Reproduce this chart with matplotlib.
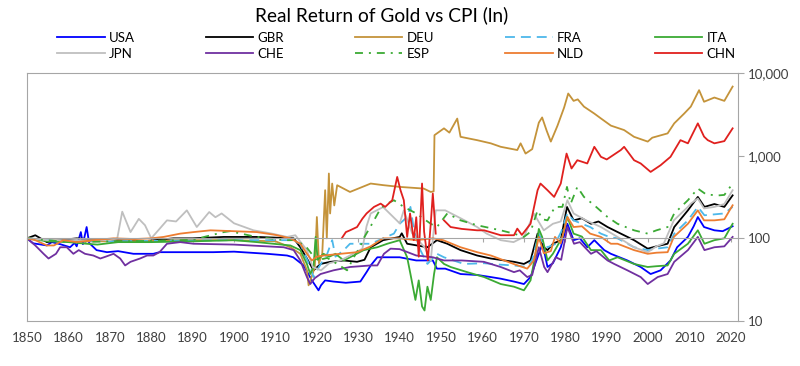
"""Real return of gold vs CPI, log scale, ten countries."""
import numpy as np
import matplotlib
matplotlib.use("Agg")
import matplotlib.pyplot as plt
from matplotlib.ticker import FixedLocator, NullLocator, FixedFormatter

plt.rcParams["font.family"] = ["Lato", "DejaVu Sans"]

# ---- data (index) ----
usa_x = [1850, 1851.5, 1854.8, 1856, 1858, 1860.4, 1861.5, 1862, 1863, 1863.5, 1864.4, 1865, 1866.8,
         1869.3, 1872, 1875.7, 1880.5, 1882, 1887, 1895, 1900, 1908, 1912.8, 1914.3, 1916.8, 1918.8,
         1920.4, 1921, 1922, 1924, 1927, 1930.5, 1932, 1933, 1934.6, 1940, 1944, 1948, 1949, 1951,
         1954.7, 1958.8, 1962, 1964.4, 1967.6, 1970, 1971.6, 1973.3, 1974.5, 1975.7, 1977, 1978.9,
         1980.5, 1982, 1983.5, 1985.3, 1987, 1989.4, 1991, 1995, 1998.2, 2000.6, 2003, 2005.4, 2007,
         2009.6, 2011, 2012, 2013.5, 2016, 2018, 2020.4]
usa_y = [100, 87, 82, 90, 85, 78, 88, 80, 119, 85, 137, 88, 72, 68, 70, 65, 65, 68, 68, 68, 69, 65,
         62, 59, 47, 31, 23.5, 27, 31, 30, 29, 30, 39, 47, 59, 59, 54, 54, 43, 43, 37, 36, 34, 32.5,
         30, 28, 34, 59, 86, 45, 50, 78, 150, 95, 100, 78, 95, 72, 65, 54, 45, 37, 41, 54, 78, 104,
         140, 181, 137, 125, 122, 140]

gbr_x = [1850, 1852, 1854.8, 1858, 1862, 1868.5, 1879, 1885.4, 1890, 1897.5, 1905.5, 1914.4, 1916,
         1917.6, 1919.2, 1920.9, 1923.3, 1926.5, 1929.7, 1931.5, 1933, 1936, 1940, 1940.5, 1941.8,
         1946.7, 1949, 1951.5, 1954.7, 1958.7, 1962, 1967.6, 1970, 1971.6, 1973.3, 1974.5, 1975.7,
         1977, 1978.9, 1980.4, 1982, 1984, 1986.2, 1988, 1990.2, 1993.4, 1996.6, 1999.9, 2002,
         2004.7, 2006.3, 2009.6, 2012, 2013.6, 2016, 2018.4, 2020.4]
gbr_y = [100, 109, 90, 95, 100, 95, 93, 100, 100, 104, 104, 100, 78, 57, 41, 49, 52, 54, 52, 55,
         78, 95, 104, 115, 86, 78, 95, 86, 72, 62, 57, 52, 49, 54, 114, 80, 72, 86, 95, 240, 165,
         175, 150, 160, 137, 114, 95, 75, 80, 86, 137, 218, 317, 240, 260, 240, 331]

deu_x = [1850, 1860, 1870, 1880, 1890, 1900, 1910, 1913.6, 1916, 1917.6, 1918, 1918.8, 1919.5,
         1920, 1920.5, 1921.3, 1922, 1922.4, 1922.9, 1923.2, 1923.7, 1924.2, 1924.9, 1928, 1933,
         1936, 1940, 1945.8, 1947.5, 1948.2, 1948.4, 1950.7, 1952, 1953.9, 1954.7, 1958.7, 1962,
         1964.4, 1968.4, 1969.2, 1970.4, 1972, 1973.6, 1974.4, 1975.5, 1976.5, 1978.1, 1979.7,
         1980.7, 1982, 1983, 1984.5, 1987, 1988.6, 1991, 1994.2, 1996.6, 1999.9, 2001, 2004.7,
         2006.3, 2008.7, 2010.3, 2012.3, 2013.5, 2016, 2018.4, 2020.4]
deu_y = [100, 92, 92, 93, 95, 95, 92, 78, 65, 41, 27, 35, 45, 181, 50, 65, 382, 100, 608, 200,
         460, 250, 439, 364, 460, 440, 419, 400, 364, 370, 1770, 2140, 1900, 2810, 1690, 1540,
         1410, 1280, 1170, 1410, 1060, 1200, 2510, 2900, 2000, 1480, 2300, 3810, 5650, 4600, 4800,
         3920, 3230, 2820, 2310, 2040, 1690, 1480, 1650, 1860, 2460, 3230, 3920, 6200, 4490, 5050,
         4600, 6850]

fra_x = [1850, 1860, 1870, 1880, 1890, 1900, 1910, 1914, 1916, 1918.4, 1919.2, 1920.5, 1922.5,
         1923.7, 1924.5, 1926.5, 1928, 1933, 1936, 1938.6, 1940, 1941.8, 1942.6, 1943.5, 1945,
         1946.7, 1949, 1950.7, 1955.5, 1960.4, 1964.4, 1967.6, 1970.8, 1972, 1973.6, 1974.5,
         1975.7, 1977.5, 1979, 1980.5, 1982, 1984, 1986, 1988.6, 1990.6, 1992.6, 1996.6, 1999.9,
         2002, 2004.7, 2006.3, 2009.6, 2012, 2013.6, 2016, 2018.4, 2020.4]
fra_y = [100, 92, 92, 93, 94, 95, 95, 95, 86, 45, 34, 45, 65, 95, 60, 72, 86, 86, 100, 114, 150,
         181, 240, 120, 72, 49, 65, 59, 49, 50, 48, 47, 45, 55, 114, 90, 78, 85, 120, 200, 165, 150,
         137, 114, 104, 100, 78, 72, 75, 78, 114, 165, 240, 190, 195, 200, 240]

ita_x = [1850, 1855, 1860, 1864.4, 1867, 1872, 1880, 1890, 1900, 1905.5, 1913.6, 1916, 1917.6,
         1918.4, 1919.2, 1919.7, 1920.2, 1921.6, 1923, 1924.5, 1926.5, 1928, 1931.3, 1934.6, 1937,
         1940, 1941.8, 1942.6, 1943.8, 1944.6, 1945.4, 1946, 1946.7, 1947.5, 1948.3, 1949, 1950.7,
         1952.3, 1956.3, 1960.4, 1964.4, 1967.6, 1970, 1971.6, 1972.8, 1973.6, 1974.4, 1975.7,
         1977, 1979.3, 1980.5, 1982, 1984, 1986.2, 1988.6, 1990.6, 1992.6, 1996.6, 1999.9, 2002,
         2004.7, 2006.3, 2009.6, 2012, 2013.6, 2016, 2018.4, 2020.4]
ita_y = [100, 92, 90, 86, 84, 90, 90, 92, 95, 90, 82, 72, 49, 37, 45, 104, 55, 65, 60, 65, 54, 59,
         72, 78, 86, 95, 59, 37, 18, 31, 15, 13.4, 26, 18, 37, 59, 49, 45, 39, 34, 28, 26, 23.5,
         31, 65, 130, 104, 54, 65, 104, 181, 114, 105, 72, 72, 54, 59, 49, 45, 46, 47, 65, 86, 125,
         86, 95, 100, 150]

jpn_x = [1850, 1855, 1860, 1865, 1870, 1871.8, 1873, 1875, 1877, 1878.5, 1880, 1882, 1883.8,
         1886, 1888.6, 1891, 1894, 1895.5, 1897, 1900, 1904.7, 1908.8, 1912.8, 1914.8, 1917.6,
         1919, 1921, 1923, 1925.7, 1928, 1931, 1932, 1933, 1936, 1940, 1941, 1943, 1946, 1947.5,
         1948.7, 1951, 1954.7, 1958.7, 1961, 1964.4, 1967.5, 1970, 1972.4, 1974.8, 1977, 1978.9,
         1980.5, 1982, 1985, 1988.6, 1992.6, 1996.6, 1999.9, 2002, 2003.8, 2006.2, 2009.6, 2010.3,
         2012, 2013.5, 2016, 2018.4, 2020.4]
jpn_y = [100, 95, 95, 95, 95, 100, 210, 119, 172, 144, 100, 130, 165, 160, 218, 137, 208, 180,
         200, 152, 125, 115, 104, 109, 72, 45, 41, 50, 54, 62, 75, 140, 200, 239, 152, 218, 115,
         78, 54, 218, 218, 175, 137, 114, 95, 90, 104, 199, 125, 150, 160, 289, 200, 165, 137, 104,
         78, 68, 80, 87, 165, 240, 263, 303, 230, 240, 260, 382]

che_x = [1850, 1852, 1854, 1855.2, 1857, 1858, 1859.6, 1861.2, 1862.5, 1864, 1866, 1867.7, 1869,
         1870.9, 1872.5, 1873.7, 1875, 1877.3, 1879, 1880.5, 1882, 1883.8, 1887, 1890.2, 1900,
         1912, 1914.4, 1916, 1917.6, 1918.4, 1919.5, 1920.9, 1924, 1928, 1933, 1934.6, 1936.2,
         1937.8, 1940, 1944, 1948, 1950.7, 1955, 1960.3, 1964.4, 1967.6, 1969, 1970.8, 1972,
         1973.6, 1974.9, 1975.7, 1977.7, 1979, 1980.5, 1982.1, 1983.5, 1986.2, 1987.5, 1990.2,
         1991.8, 1995, 1998.2, 1999.9, 2002.3, 2004.7, 2006.3, 2009.6, 2012, 2013.6, 2016, 2018.4,
         2020.4]
che_y = [100, 82, 65, 57, 65, 78, 78, 65, 72, 65, 62, 57, 60, 65, 57, 47, 52, 57, 62, 62, 68, 86,
         90, 86, 84, 78, 72, 54, 34, 28, 33, 37, 41, 45, 47, 47, 65, 75, 74, 62, 59, 54, 54, 52,
         45, 39, 41, 34, 36, 78, 45, 39, 59, 55, 137, 86, 90, 65, 70, 54, 49, 41, 34, 28, 34, 37,
         52, 72, 104, 72, 78, 80, 104]

esp_x = [1850, 1860, 1870, 1880, 1890, 1897.5, 1899, 1905, 1912, 1915, 1917.5, 1920, 1922.5,
         1924.9, 1927.3, 1929, 1930.5, 1931.3, 1933, 1935.4, 1937, 1938.6, 1941, 1944, 1947.5,
         1949, 1951.5, 1954.7, 1958.7, 1964.4, 1967.6, 1970, 1971.6, 1973.3, 1974.5, 1975.7,
         1977.5, 1979.3, 1980.4, 1981.3, 1982.9, 1984.5, 1987, 1990.2, 1992.6, 1996.6, 1999.9,
         2002, 2004.7, 2006.3, 2009.6, 2012, 2014, 2016.8, 2018.4, 2020.4]
esp_y = [100, 90, 92, 93, 96, 119, 122, 105, 95, 95, 78, 54, 58, 49, 41, 60, 80, 100, 140, 230,
         263, 289, 240, 200, 150, 137, 200, 165, 144, 125, 114, 104, 120, 218, 170, 165, 240, 240,
         419, 263, 419, 317, 251, 181, 150, 125, 114, 125, 137, 200, 289, 400, 340, 330, 335, 460]

nld_x = [1850, 1852, 1854.8, 1856.5, 1858.8, 1862, 1866, 1870.9, 1876, 1880, 1883, 1887, 1890.2,
         1894.3, 1900, 1905.5, 1910, 1913.6, 1916, 1917.6, 1918.8, 1920, 1921.7, 1925.7, 1929.7,
         1933, 1936, 1940, 1944, 1948, 1950.5, 1954.7, 1958.7, 1962, 1967.5, 1970.8, 1972.4,
         1973.6, 1974.8, 1976.5, 1977.5, 1978.9, 1980.5, 1982, 1984, 1986, 1988.6, 1991, 1992.6,
         1996.6, 1999.9, 2002, 2004.7, 2006.2, 2009.6, 2012, 2013.5, 2016, 2018.4, 2020.4]
nld_y = [100, 95, 82, 82, 95, 90, 95, 100, 98, 100, 104, 114, 119, 125, 122, 119, 110, 100, 86,
         65, 54, 60, 62, 65, 68, 80, 100, 100, 95, 100, 95, 78, 68, 62, 49, 43, 54, 104, 66, 70,
         104, 87, 181, 137, 140, 114, 104, 86, 86, 72, 65, 67, 68, 104, 150, 218, 165, 165, 170,
         251]

chn_x = [1926, 1927, 1928, 1929.7, 1931, 1932, 1933.8, 1935.4, 1936.5, 1938.2, 1939.4, 1940.2,
         1941, 1941.8, 1942.5, 1943.4, 1944, 1944.6, 1945.4, 1945.9, 1946.8, 1947.5, 1948, 1948.7,
         1949.7, 1950.7, 1952.3, 1955, 1958.7, 1960.4, 1964.4, 1967.6, 1968.4, 1969.5, 1971.6,
         1973.3, 1974, 1975.7, 1977.3, 1978.9, 1980.3, 1981.5, 1982.9, 1985.3, 1987, 1988.6, 1990,
         1993.4, 1994.2, 1996.6, 1998.2, 2000.6, 2003, 2005.4, 2007.8, 2009.6, 2012, 2013.5,
         2014.4, 2016, 2018.4, 2020.4]
chn_y = [100, 119, 125, 137, 173, 200, 240, 263, 240, 289, 553, 382, 289, 104, 200, 95, 180, 60,
         460, 120, 54, 150, 348, 114, np.nan, 165, 137, 130, 125, 125, 109, 109, 131, 110, 150,
         382, 460, 382, 317, 460, 1060, 700, 881, 805, 1280, 968, 900, 1170, 1280, 881, 805, 636,
         766, 968, 1540, 1410, 2460, 1700, 1540, 1410, 1500, 2140]

series = [
    ("USA", usa_x, usa_y, "#0000FF", "-"),
    ("GBR", gbr_x, gbr_y, "#000000", "-"),
    ("DEU", deu_x, deu_y, "#C4933A", "-"),
    ("FRA", fra_x, fra_y, "#4DB8EA", (0, (5.5, 3.3))),
    ("ITA", ita_x, ita_y, "#3BAA34", "-"),
    ("JPN", jpn_x, jpn_y, "#BFBFBF", "-"),
    ("CHE", che_x, che_y, "#7030A0", "-"),
    ("ESP", esp_x, esp_y, "#3BAA34", (0, (4.4, 3.3, 1.1, 3.3))),
    ("NLD", nld_x, nld_y, "#ED7D31", "-"),
    ("CHN", chn_x, chn_y, "#E0201E", "-"),
]
decades = list(range(1850, 2021, 10))
yticks = [10, 100, 1000, 10000]
ylabels = ["10", "100", "1,000", "10,000"]

fig = plt.figure(figsize=(8, 3.66), dpi=100, facecolor="white")
ax = fig.add_axes([27 / 800, 45 / 366, 711 / 800, 248 / 366])

handles = []
for name, xs, ys, col, ls in series:
    h, = ax.plot(xs, ys, color=col, ls=ls, lw=1.3, label=name)
    handles.append(h)

ax.set_yscale("log")
ax.set_ylim(10, 10000)
ax.set_xlim(1850, 2021.7)

grey = "#A6A6A6"
ax.yaxis.tick_right()
ax.yaxis.set_major_locator(FixedLocator(yticks))
ax.yaxis.set_major_formatter(FixedFormatter(ylabels))
ax.yaxis.set_minor_locator(NullLocator())
ax.tick_params(axis="y", direction="out", length=4, color=grey, labelsize=9.5,
               labelcolor="#404040", pad=3)

# horizontal axis crosses at 100, labels sit at the bottom
ax.spines["bottom"].set_position(("data", 100))
ax.spines["bottom"].set_color(grey)
ax.set_xticks(decades)
ax.tick_params(axis="x", direction="out", length=3, color=grey, labelbottom=False)
for s in ["top", "left", "right"]:
    ax.spines[s].set_color(grey)
sec = ax.secondary_xaxis("bottom")
sec.set_xticks(decades)
sec.tick_params(length=0, labelsize=9.5, labelcolor="#404040", pad=8)
sec.spines["bottom"].set_color(grey)

# title centred over the plot area
fig.text(382 / 800, 0.958, "Real Return of Gold vs CPI (ln)", ha="center", va="center",
         fontsize=13.8, color="#000000")
# legend fills column by column: reorder so rows read USA..ITA / JPN..CHN
order = [0, 5, 1, 6, 2, 7, 3, 8, 4, 9]
fig.legend([handles[i] for i in order], [series[i][0] for i in order],
           loc="upper left", bbox_to_anchor=(57 / 800, 1 - 32 / 366), ncol=5, frameon=False,
           fontsize=9.5, handlelength=3.6, handletextpad=0.3, columnspacing=5.4,
           labelspacing=0.3, borderpad=0, borderaxespad=0)

fig.savefig("out.png", dpi=100)
print("saved out.png")
